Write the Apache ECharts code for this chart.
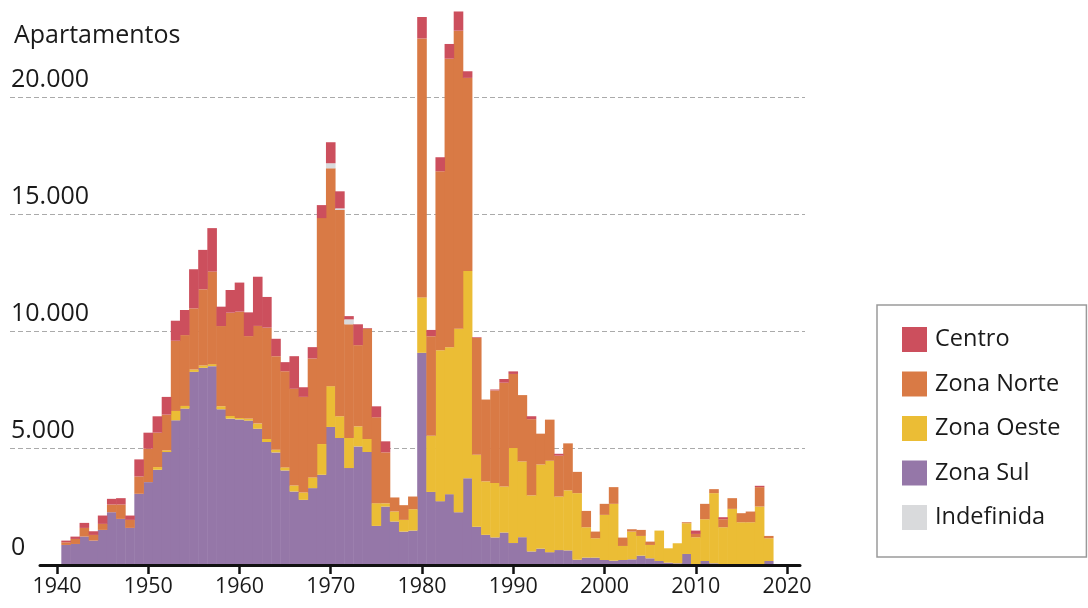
<!DOCTYPE html>
<html>
<head>
<meta charset="utf-8">
<script src="https://cdn.jsdelivr.net/npm/echarts@6/dist/echarts.min.js"></script>
<style>
  html, body { margin: 0; padding: 0; background: #fff; }
  #chart { width: 1088px; height: 608px; }
</style>
</head>
<body>
<div id="chart"></div>
<script>
// anos 1941..2018
const years = [];
for (let y = 1941; y <= 2018; y++) years.push(String(y));

const zonaSul = [
  858, 900, 1215, 1044, 1502, 2259, 1973, 1587, 3046, 3546,
  4076, 4833, 6192, 6692, 8265, 8437, 8509, 6664, 6263, 6230,
  6178, 5830, 5264, 4818, 4046, 3145, 2788, 3290, 3861, 5907,
  5435, 4148, 5075, 4834, 1673, 2500, 1860, 1430, 1472, 9080,
  3126, 2732, 3032, 2258, 3711, 1635, 1290, 1180, 1390, 940,
  1190, 580, 700, 550, 640, 625, 225, 315, 315, 215,
  186, 215, 243, 400, 286, 172, 100, 72, 472, 43,
  172, 72, 43, 43, 15, 15, 15, 172
];
const zonaOeste = [
  0, 0, 0, 0, 0, 0, 0, 0, 0, 0,
  114, 72, 400, 114, 100, 100, 86, 129, 114, 60,
  85, 220, 130, 115, 130, 257, 315, 457, 1315, 1745,
  930, 1287, 858, 560, 972, 140, 430, 500, 915, 2370,
  2400, 6458, 6284, 7847, 8874, 3080, 2290, 2330, 1970, 4065,
  3240, 2400, 3600, 3910, 2290, 2570, 2850, 1300, 830, 1930,
  2431, 600, 1187, 844, 572, 1301, 615, 858, 1316, 1144,
  1787, 3003, 1573, 2359, 1815, 1815, 2488, 972
];
const zonaNorte = [
  114, 215, 372, 243, 257, 329, 615, 343, 744, 1430,
  1473, 1530, 3003, 3032, 2617, 3260, 3961, 3432, 4419, 4550,
  3532, 4180, 4761, 4002, 4114, 4138, 4092, 5090, 9667, 9323,
  8825, 4865, 3475, 4716, 3675, 2180, 600, 630, 543, 11080,
  4264, 7658, 12348, 12758, 8258, 5000, 3500, 3960, 4440, 3170,
  2840, 3260, 1320, 1760, 1750, 2010, 910, 700, 285, 472,
  715, 358, 100, 258, 143, 0, 0, 0, 42, 143,
  658, 171, 343, 458, 387, 458, 829, 100
];
const indefinida = [
  0, 0, 0, 0, 0, 0, 0, 0, 0, 0,
  0, 0, 0, 0, 0, 0, 0, 0, 0, 0,
  0, 0, 0, 0, 0, 0, 0, 0, 0, 215,
  70, 210, 0, 0, 0, 0, 0, 0, 0, 0,
  0, 0, 0, 0, 0, 0, 0, 0, 0, 0,
  0, 0, 0, 0, 0, 0, 0, 0, 0, 0,
  0, 0, 0, 0, 0, 0, 0, 0, 0, 0,
  0, 0, 0, 0, 0, 0, 0, 0
];
const centro = [
  72, 100, 215, 157, 358, 243, 272, 186, 729, 686,
  700, 758, 858, 1073, 1673, 1687, 1859, 829, 972, 1245,
  1015, 2105, 1315, 745, 390, 1395, 411, 485, 557, 900,
  730, 140, 892, 30, 470, 472, 0, 0, 0, 920,
  268, 600, 631, 822, 284, 30, 0, 40, 158, 110,
  0, 126, 0, 0, 79, 0, 0, 0, 0, 0,
  0, 0, 0, 0, 0, 0, 0, 0, 0, 143,
  0, 0, 86, 0, 0, 0, 57, 0
];

const xTicks = [1940, 1950, 1960, 1970, 1980, 1990, 2000, 2010, 2020];
const yTickLabels = ['0', '5.000', '10.000', '15.000', '20.000'];

const FONT = '"Open Sans", "Noto Sans", sans-serif';
const TXT = '#1a1a1a';

function barSeries(name, arr, color) {
  return {
    name: name,
    type: 'bar',
    xAxisIndex: 1,
    yAxisIndex: 1,
    stack: 'total',
    barWidth: 9.6,
    clip: false,
    itemStyle: { color: color },
    emphasis: { disabled: true },
    data: arr
  };
}

const chart = echarts.init(document.getElementById('chart'));
chart.setOption({
  animation: false,
  textStyle: { fontFamily: FONT },
  title: {
    text: 'Apartamentos',
    left: 9,
    top: 18,
    textStyle: { fontSize: 25, fontWeight: 'normal', color: TXT, fontFamily: FONT }
  },
  legend: {
    orient: 'vertical',
    left: 877,
    top: 305,
    icon: 'rect',
    itemWidth: 25,
    itemHeight: 25,
    itemGap: 19.5,
    padding: [22, 26, 27, 25],
    borderColor: '#9a9a9a',
    borderWidth: 1.5,
    selectedMode: false,
    data: ['Centro', 'Zona Norte', 'Zona Oeste', 'Zona Sul', 'Indefinida'],
    textStyle: { fontSize: 23.5, color: TXT, fontFamily: FONT, padding: [0, 0, 0, 3] }
  },
  grid: [
    // linhas de grade e rótulos do eixo y
    { left: 10, right: 283, top: 97.6, bottom: 43 },
    // barras: uma faixa por ano, 1941..2018
    { left: 61.56, right: 314.69, top: 97.6, bottom: 43 },
    // eixo x visível com os anos
    { left: 40, right: 288, top: 97.6, bottom: 43 }
  ],
  xAxis: [
    { gridIndex: 0, type: 'value', min: 0, max: 1, show: false },
    { gridIndex: 1, type: 'category', data: years, show: false },
    {
      gridIndex: 2,
      type: 'value',
      min: 1938.14,
      max: 2021.42,
      axisLine: { lineStyle: { color: '#111', width: 3 } },
      axisTick: { customValues: xTicks, length: 9, lineStyle: { color: '#111', width: 2.5 } },
      axisLabel: {
        customValues: xTicks,
        fontSize: 21.5,
        color: TXT,
        margin: 11,
        fontFamily: FONT,
        formatter: v => String(v)
      },
      splitLine: { show: false },
      z: 5
    }
  ],
  yAxis: [
    {
      gridIndex: 0,
      type: 'value',
      min: 0,
      max: 20000,
      interval: 5000,
      axisLine: { show: false },
      axisTick: { show: false },
      axisLabel: {
        inside: true,
        margin: 1,
        verticalAlign: 'bottom',
        padding: [0, 0, 5, 0],
        fontSize: 25,
        color: TXT,
        fontFamily: FONT,
        formatter: v => yTickLabels[Math.round(v / 5000)]
      },
      splitLine: { showMinLine: false, lineStyle: { type: [5, 3], color: '#aaaaaa', width: 1 } }
    },
    { gridIndex: 1, type: 'value', min: 0, max: 20000, show: false },
    { gridIndex: 2, type: 'value', min: 0, max: 1, show: false }
  ],
  series: [
    barSeries('Zona Sul', zonaSul, '#9577a8'),
    barSeries('Zona Oeste', zonaOeste, '#ebbd35'),
    barSeries('Zona Norte', zonaNorte, '#d97a45'),
    barSeries('Indefinida', indefinida, '#d9dadc'),
    barSeries('Centro', centro, '#cc4f5d')
  ]
});
</script>
</body>
</html>
